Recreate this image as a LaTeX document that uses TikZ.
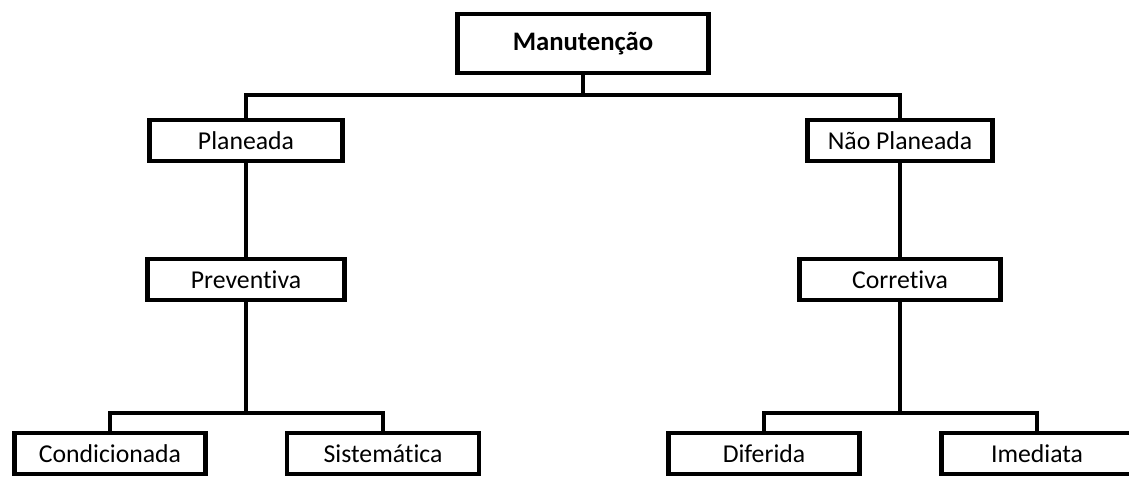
\documentclass[tikz,border=0pt]{standalone}
\usepackage{fontspec}
\setmainfont{Carlito}[Ligatures={NoCommon}]
\begin{document}
\begin{tikzpicture}[x=0.025cm, y=-0.025cm,
		box/.style={draw, line width=3.2pt, minimum height=41*0.025cm, inner sep=0pt, font=\fontsize{18.3}{21}\selectfont},
		link/.style={line width=3.2pt}]
		\useasboundingbox (0,0) rectangle (1129,476);

		\node[box, minimum width=251*0.025cm, minimum height=59*0.025cm, font=\fontsize{19}{22}\selectfont\bfseries] (man) at (583,43.5) {Manutenção};

		\node[box, minimum width=193*0.025cm] (plan) at (246,140.5) {Planeada};
		\node[box, minimum width=185*0.025cm] (nplan) at (900,140.5) {Não Planeada};

		\node[box, minimum width=197*0.025cm] (prev) at (246,279.5) {Preventiva};
		\node[box, minimum width=201*0.025cm] (corr) at (900,279.5) {Corretiva};

		\node[box, minimum width=191*0.025cm] (cond) at (110,453.5) {Condicionada};
		\node[box, minimum width=192*0.025cm] (sist) at (383,453.5) {Sistemática};
		\node[box, minimum width=191*0.025cm] (dif) at (764,453.5) {Diferida};
		\node[box, minimum width=191*0.025cm] (ime) at (1037,453.5) {Imediata};

		\coordinate (j0) at (583,95);
		\coordinate (j1) at (246,413);
		\coordinate (j2) at (900,413);

		\draw[link] (man) -- (j0);
		\draw[link] (plan.north) |- (j0) -| (nplan.north);

		\draw[link] (plan) -- (prev);
		\draw[link] (nplan) -- (corr);

		\draw[link] (prev) -- (j1);
		\draw[link] (cond.north) |- (j1) -| (sist.north);
		\draw[link] (corr) -- (j2);
		\draw[link] (dif.north) |- (j2) -| (ime.north);
	\end{tikzpicture}
\end{document}
